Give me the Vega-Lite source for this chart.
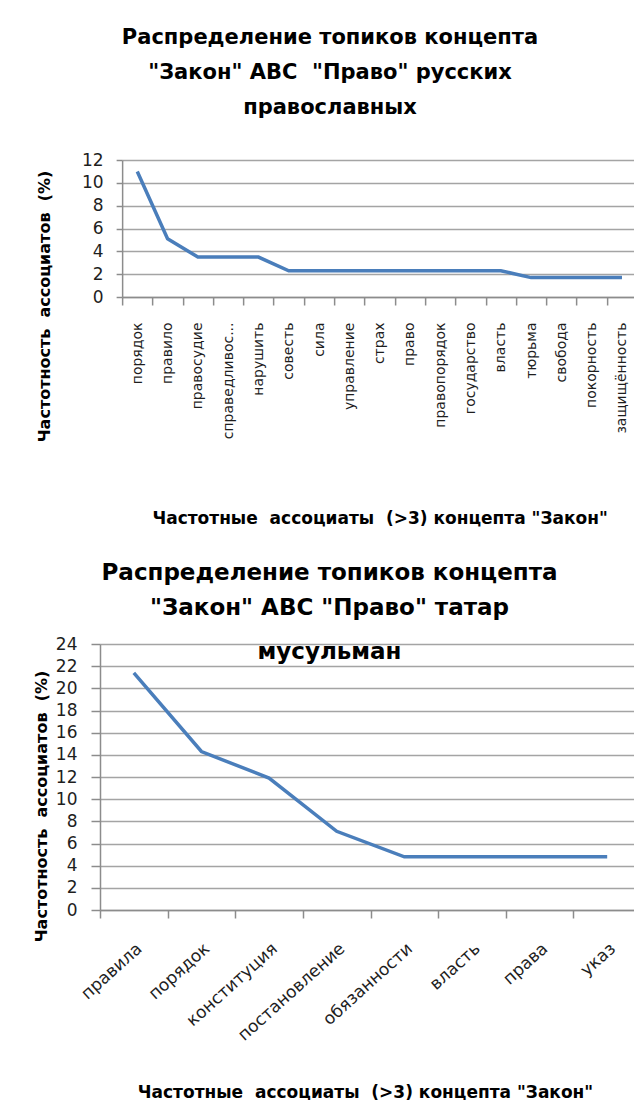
{
  "$schema": "https://vega.github.io/schema/vega-lite/v6.json",
  "background": "white",
  "padding": {"left": 32, "top": 27, "right": 0, "bottom": 0},
  "spacing": 36,
  "center": true,
  "config": {
    "font": "DejaVu Sans",
    "view": {"stroke": null},
    "axis": {
      "domainColor": "#8c8c8c",
      "domainWidth": 1.5,
      "tickColor": "#8c8c8c",
      "tickWidth": 1.5,
      "gridColor": "#a4a4a4",
      "gridWidth": 1.6,
      "labelColor": "#1e1e1e",
      "titleColor": "#000000",
      "labelFont": "DejaVu Sans",
      "titleFont": "DejaVu Sans",
      "titleFontWeight": "bold"
    },
    "title": {"font": "DejaVu Sans", "fontWeight": "bold", "color": "#000000", "subtitleFont": "DejaVu Sans", "subtitleFontWeight": "bold", "subtitleColor": "#000000"}
  },
  "vconcat": [
    {
      "width": 515,
      "height": 137,
      "data": {"values": [
        {"topic": "порядок", "pct": 11.0},
        {"topic": "правило", "pct": 5.1},
        {"topic": "правосудие", "pct": 3.5},
        {"topic": "справедливость", "pct": 3.5},
        {"topic": "нарушить", "pct": 3.5},
        {"topic": "совесть", "pct": 2.3},
        {"topic": "сила", "pct": 2.3},
        {"topic": "управление", "pct": 2.3},
        {"topic": "страх", "pct": 2.3},
        {"topic": "право", "pct": 2.3},
        {"topic": "правопорядок", "pct": 2.3},
        {"topic": "государство", "pct": 2.3},
        {"topic": "власть", "pct": 2.3},
        {"topic": "тюрьма", "pct": 1.7},
        {"topic": "свобода", "pct": 1.7},
        {"topic": "покорность", "pct": 1.7},
        {"topic": "защищённость", "pct": 1.7}
      ]},
      "title": {
        "text": ["Распределение топиков концепта", "\"Закон\" АВС\u00a0 \"Право\" русских", "православных"],
        "fontSize": 21,
        "lineHeight": 35,
        "offset": 33,
        "frame": "bounds",
        "dx": -7
      },
      "mark": {"type": "line", "color": "#4a7ebb", "strokeWidth": 3.5},
      "encoding": {
        "x": {
          "field": "topic", "type": "nominal", "sort": null, "bandPosition": 0.5,
          "scale": {"type": "band", "paddingInner": 0, "paddingOuter": 0},
          "axis": {
            "grid": false, "tickBand": "extent", "tickSize": 8,
            "labelAngle": 270, "labelFontSize": 14, "labelPadding": 17,
            "labelExpr": "datum.label == 'справедливость' ? 'справедливос...' : datum.label",
            "title": "Частотные\u00a0 ассоциаты\u00a0 (>3) концепта \"Закон\"",
            "titleFontSize": 17, "titleY": 221, "titleBaseline": "middle"
          }
        },
        "y": {
          "field": "pct", "type": "quantitative",
          "scale": {"domain": [0, 12]},
          "axis": {
            "values": [0, 2, 4, 6, 8, 10, 12], "grid": true, "tickSize": 6,
            "labelPadding": 13, "labelFontSize": 17,
            "title": "Частотность\u00a0 ассоциатов\u00a0 (%)", "titleFontSize": 16,
            "titleAngle": 270, "titleBaseline": "bottom", "titleAlign": "center",
            "titleX": -70, "titleY": 146
          }
        }
      }
    },
    {
      "width": 560,
      "height": 266,
      "data": {"values": [
        {"topic": "правила", "pct": 21.4},
        {"topic": "порядок", "pct": 14.3},
        {"topic": "конституция", "pct": 11.9},
        {"topic": "постановление", "pct": 7.1},
        {"topic": "обязанности", "pct": 4.8},
        {"topic": "власть", "pct": 4.8},
        {"topic": "права", "pct": 4.8},
        {"topic": "указ", "pct": 4.8}
      ]},
      "title": {
        "text": ["Распределение топиков концепта", "\"Закон\" АВС \"Право\" татар"],
        "subtitle": "мусульман",
        "fontSize": 23,
        "lineHeight": 35,
        "subtitleFontSize": 23,
        "subtitlePadding": 21,
        "offset": -29,
        "frame": "bounds",
        "dx": -17
      },
      "mark": {"type": "line", "color": "#4a7ebb", "strokeWidth": 3.5},
      "encoding": {
        "x": {
          "field": "topic", "type": "nominal", "sort": null, "bandPosition": 0.5,
          "scale": {"type": "band", "paddingInner": 0, "paddingOuter": 0, "range": [0, 541]},
          "axis": {
            "grid": false, "tickBand": "extent", "tickSize": 8,
            "labelAngle": -42, "labelFontSize": 17, "labelPadding": 22,
            "title": "Частотные\u00a0 ассоциаты\u00a0 (>3) концепта \"Закон\"",
            "titleFontSize": 17, "titleX": 265, "titleAlign": "center", "titleY": 182, "titleBaseline": "middle"
          }
        },
        "y": {
          "field": "pct", "type": "quantitative",
          "scale": {"domain": [0, 24]},
          "axis": {
            "values": [0, 2, 4, 6, 8, 10, 12, 14, 16, 18, 20, 22, 24], "grid": true, "tickSize": 9,
            "labelPadding": 14, "labelFontSize": 17,
            "title": "Частотность\u00a0 ассоциатов\u00a0 (%)", "titleFontSize": 16,
            "titleAngle": 270, "titleBaseline": "bottom", "titleAlign": "center",
            "titleX": -51, "titleY": 162
          }
        }
      }
    }
  ]
}
